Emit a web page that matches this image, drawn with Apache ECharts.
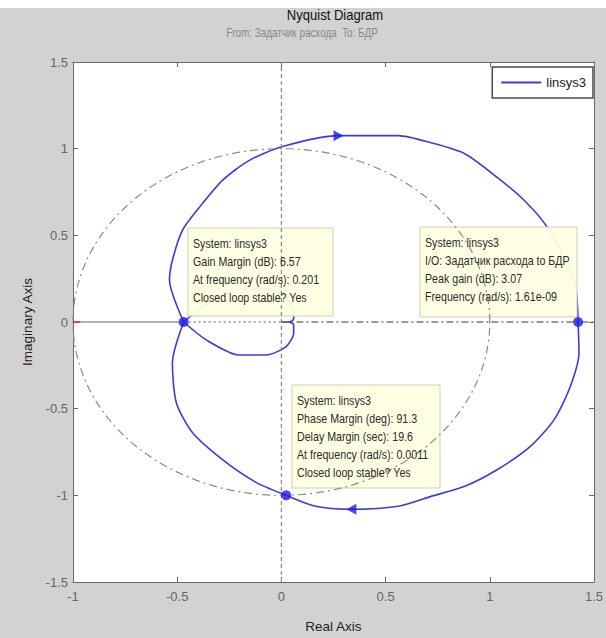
<!DOCTYPE html>
<html><head><meta charset="utf-8">
<script src="https://cdn.jsdelivr.net/npm/echarts@6/dist/echarts.min.js"></script>
<style>html,body{margin:0;padding:0;background:#fff}#c{width:606px;height:638px}</style>
</head><body><div id="c"></div>
<script>
const FONT = "'Liberation Sans', Arial, sans-serif";
const titleText = 'Nyquist Diagram';
const subtitleText = 'From: Задатчик расхода  To: БДР';
const xAxisName = 'Real Axis';
const yAxisName = 'Imaginary Axis';
const seriesName = 'linsys3';
const xTicks = [-1, -0.5, 0, 0.5, 1, 1.5];
const yTicks = [-1.5, -1, -0.5, 0, 0.5, 1, 1.5];

// Nyquist curve
const lowerArcRe = [1.424, 1.428, 1.386, 1.309, 1.195, 1.037, 0.880, 0.718, 0.560, 0.336, 0.164, 0.023, -0.122, -0.284, -0.427, -0.504, -0.523, -0.469];
const lowerArcIm = [0, -0.178, -0.374, -0.563, -0.718, -0.851, -0.948, -1.006, -1.063, -1.080, -1.063, -1.000, -0.925, -0.793, -0.638, -0.466, -0.236, 0];
const upperArcRe = [1.424, 1.405, 1.276, 1.166, 1.037, 0.880, 0.718, 0.560, 0.274, 0.002, -0.156, -0.284, -0.394, -0.475, -0.523, -0.537, -0.469];
const upperArcIm = [0, 0.241, 0.546, 0.701, 0.833, 0.971, 1.034, 1.075, 1.075, 1.011, 0.931, 0.816, 0.661, 0.529, 0.356, 0.241, 0];
const loopBelowRe = [-0.469, -0.361, -0.203, -0.074, 0.021, 0.059, 0.059, 0.035, 0.0];
const loopBelowIm = [0, -0.103, -0.190, -0.190, -0.144, -0.063, -0.017, 0, 0];
const loopAboveRe = [-0.469, -0.361, -0.203, -0.074, 0.021, 0.059, 0.059, 0.035, 0.0];
const loopAboveIm = [0, 0.103, 0.190, 0.190, 0.144, 0.063, 0.017, 0, 0];

// margin / peak points and direction arrows
const markRe = [-0.469, 0.023, 1.424];
const markIm = [0, -1.0, 0];
const arrowRe = [0.274, 0.336];
const arrowIm = [1.075, -1.08];
const arrowRot = [-90, 90];

// reference lines
const unitRadius = 1;
const gmRe = -0.469;

// data tips
const tipGM = ['System: linsys3', 'Gain Margin (dB): 6.57', 'At frequency (rad/s): 0.201', 'Closed loop stable? Yes'];
const tipPeak = ['System: linsys3', 'I/O: Задатчик расхода to БДР', 'Peak gain (dB): 3.07', 'Frequency (rad/s): 1.61e-09'];
const tipPM = ['System: linsys3', 'Phase Margin (deg): 91.3', 'Delay Margin (sec): 19.6', 'At frequency (rad/s): 0.0011', 'Closed loop stable? Yes'];

const zip = (a, b) => a.map((v, i) => [v, b[i]]);
const circle = [];
for (let k = 0; k <= 360; k += 2) {
  const t = k * Math.PI / 180;
  circle.push([unitRadius * Math.cos(t), unitRadius * Math.sin(t)]);
}

const BLUE = '#3b3be2';
const curveStyle = { color: BLUE, width: 1.6 };
function curve(data) {
  return { name: seriesName, type: 'line', data, smooth: 0.25, showSymbol: false, symbol: 'none', lineStyle: curveStyle, itemStyle: { color: BLUE }, z: 2, silent: true, animation: false };
}
function guide(data, color, type, width, z) {
  return { type: 'line', data, showSymbol: false, symbol: 'none', lineStyle: { color, type, width }, z: z || 4, silent: true, animation: false };
}

const chart = echarts.init(document.getElementById('c'), null, { renderer: 'svg' });

function tip(x, y, w, h, lines) {
  return [
    { type: 'rect', shape: { x, y, width: w, height: h }, style: { fill: 'rgba(255,255,226,0.94)', stroke: '#cfcfb8', lineWidth: 1 }, z: 3 },
    { type: 'text', x: x + 5, y: y + 7, scaleX: 0.82, style: { text: lines.join('\n'), font: '13px ' + FONT, fill: '#2a2a2a', lineHeight: 18 }, z: 6 }
  ];
}

const axisCommon = {
  type: 'value', splitLine: { show: false },
  axisLine: { show: true, onZero: false, lineStyle: { color: '#6a6a6a', width: 1 } },
  axisTick: { show: true, inside: true, length: 5, lineStyle: { color: '#6a6a6a' } }
};

chart.setOption({
  backgroundColor: '#d2d2d2',
  animation: false,
  grid: { left: 73, right: 9, top: 62, bottom: 55, show: true, backgroundColor: '#ffffff', borderWidth: 0 },
  legend: {
    data: [{ name: seriesName, icon: 'rect' }],
    right: 13, top: 67, orient: 'horizontal',
    backgroundColor: '#ffffff', borderColor: '#4a4a4a', borderWidth: 1.5,
    padding: [9, 7, 9, 9], itemWidth: 40, itemHeight: 2, itemGap: 5,
    textStyle: { fontFamily: FONT, fontSize: 13, color: '#222' }
  },
  xAxis: [
    Object.assign({}, axisCommon, {
      position: 'bottom', min: xTicks[0], max: xTicks[xTicks.length - 1], interval: 0.5,
      axisLabel: { show: true, margin: 8, color: '#666', fontFamily: FONT, fontSize: 13 },
      name: xAxisName, nameLocation: 'middle', nameGap: 37,
      nameTextStyle: { color: '#222', fontFamily: FONT, fontSize: 13.5 }
    }),
    Object.assign({}, axisCommon, {
      position: 'top', min: xTicks[0], max: xTicks[xTicks.length - 1], interval: 0.5,
      axisLabel: { show: false }
    })
  ],
  yAxis: [
    Object.assign({}, axisCommon, {
      position: 'left', min: yTicks[0], max: yTicks[yTicks.length - 1], interval: 0.5,
      axisLabel: { show: true, margin: 5, color: '#666', fontFamily: FONT, fontSize: 13 },
      name: yAxisName, nameLocation: 'middle', nameGap: 36, nameRotate: 90,
      nameTextStyle: { color: '#222', fontFamily: FONT, fontSize: 13.5 }
    }),
    Object.assign({}, axisCommon, {
      position: 'right', min: yTicks[0], max: yTicks[yTicks.length - 1], interval: 0.5,
      axisLabel: { show: false }
    })
  ],
  graphic: [
    { type: 'rect', shape: { x: 0, y: 0, width: 606, height: 8 }, style: { fill: '#ffffff' }, z: 1 },
    { type: 'text', x: 335, y: 15, scaleX: 0.87, style: { text: titleText, font: '15px ' + FONT, fill: '#111', textAlign: 'center', textVerticalAlign: 'middle' }, z: 6 },
    { type: 'text', x: 302, y: 32, scaleX: 0.76, style: { text: subtitleText, font: '13px ' + FONT, fill: '#888', textAlign: 'center', textVerticalAlign: 'middle' }, z: 6 }
  ].concat(
    tip(188, 228, 145, 88, tipGM),
    tip(420, 227, 157, 90, tipPeak),
    tip(292, 385, 148, 103, tipPM)
  ),
  series: [
    curve(zip(lowerArcRe, lowerArcIm)),
    curve(zip(upperArcRe, upperArcIm)),
    curve(zip(loopBelowRe, loopBelowIm)),
    curve(zip(loopAboveRe, loopAboveIm)),
    guide(circle, '#8a8a8a', [8, 4, 2, 4], 1.2),
    guide([[0, yTicks[0]], [0, yTicks[yTicks.length - 1]]], '#8a8a8a', [4, 3], 1.2),
    guide([[xTicks[0], 0], [gmRe, 0]], '#9a9a9a', 'solid', 1.6),
    guide([[gmRe, 0], [0, 0]], '#8a8a8a', [2, 3], 1.4),
    guide([[0, 0], [xTicks[xTicks.length - 1], 0]], '#7a7a7a', [7, 3, 2, 3], 1.4),
    guide([[xTicks[0], 0], [xTicks[0] + 0.035, 0]], '#e03030', 'solid', 1.5, 5),
    {
      type: 'scatter', data: zip(markRe, markIm), symbol: 'circle', symbolSize: 10,
      itemStyle: { color: '#1a1ae6' }, z: 7, silent: true
    },
    {
      type: 'scatter', data: zip(arrowRe, arrowIm).map((p, i) => ({ value: p, symbolRotate: arrowRot[i] })),
      symbol: 'triangle', symbolSize: [11, 10],
      itemStyle: { color: '#1a1ae6' }, z: 7, silent: true
    }
  ]
});
</script></body></html>
